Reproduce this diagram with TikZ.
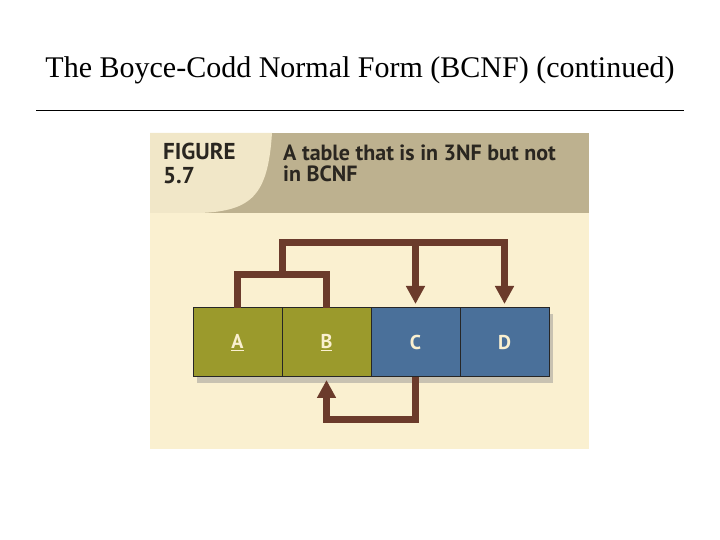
\documentclass[tikz,border=0pt]{standalone}
\usepackage{fontspec}
\setmainfont{Liberation Serif}
\newfontfamily\figfont{PT Sans}
\usetikzlibrary{arrows.meta, positioning, calc}
\definecolor{FigCream}{HTML}{FAF0D0}
\definecolor{FigTan}{HTML}{BDB18F}
\definecolor{FigLight}{HTML}{F1E7C8}
\definecolor{FigOlive}{HTML}{9B9A2C}
\definecolor{FigBlue}{HTML}{4A709A}
\definecolor{FigBrown}{HTML}{6B3B2B}
\definecolor{FigInk}{HTML}{2A2620}
\tikzset{
    % attribute boxes
    attrbox/.style={
        rectangle,
        draw=black!85,
        line width=1pt,
        minimum width=89pt,
        minimum height=69pt,
        inner sep=0pt,
        outer sep=0pt,
        text=FigCream,
        font=\figfont\bfseries\fontsize{20}{20}\selectfont
    },
    keybox/.style={attrbox, fill=FigOlive},
    nonkeybox/.style={attrbox, fill=FigBlue},
    % dependency lines
    depline/.style={
        draw=FigBrown,
        line width=7pt,
        line join=miter
    },
    deparrow/.style={
        depline,
        -{Triangle[width=18pt,length=18pt]},
        shorten >=4pt
    },
    headtext/.style={
        anchor=base west,
        inner sep=0pt,
        text=FigInk,
        font=\figfont\bfseries\fontsize{23}{23}\selectfont
    }
}
\begin{document}
\begin{tikzpicture}[x=1pt,y=1pt]
    \useasboundingbox (0,0) rectangle (720,540);

    % Title
    \node (title) at (360,470) {\fontsize{30}{34}\selectfont The Boyce-Codd Normal Form (BCNF) (continued)};
    \draw[line width=1pt] (36,429) -- (684,429);

    % Figure panel
    \fill[FigCream] (150,91) rectangle (589,407);
    \fill[FigTan] (150,327) rectangle (589,407);
    \fill[FigLight] (150,407) -- (272,407) .. controls (268,345) and (252,329) .. (200,327) -- (150,327) -- cycle;
    \node[headtext] (fig) at (163,380) {FIGURE};
    \node[headtext] (fignum) at (163,356) {5.7};
    \node[headtext, font=\figfont\bfseries\fontsize{22}{22}\selectfont] (cap1) at (283,379) {A table that is in 3NF but not};
    \node[headtext, font=\figfont\bfseries\fontsize{22}{22}\selectfont] (cap2) at (283,358) {in BCNF};

    % Shadow under the table
    \fill[black!45, opacity=0.45] (197,157) rectangle (553,226);

    % Table
    \node[keybox] (a) at (237.5,197.5) {\underline{A}};
    \node[keybox, right=0pt of a] (b) {\underline{B}};
    \node[nonkeybox, right=0pt of b] (c) {C};
    \node[nonkeybox, right=0pt of c] (d) {D};

    % A,B -> C,D
    \coordinate (abtop) at ($(a.north)+(0,33)$);
    \draw[depline] (a.north) -- (abtop) -| (b.north);
    \coordinate (abmid) at ($(abtop)!0.5!(abtop -| b.north)$);
    \coordinate (fdtop) at ($(abmid)+(0,32)$);
    \draw[deparrow] (abmid) -- (fdtop) -| (d.north);
    \draw[deparrow] (fdtop -| c.north) -- (c.north);

    % C -> B
    \draw[deparrow, shorten >=3pt] (c.south) -- ++(0,-43) -| (b.south);
\end{tikzpicture}
\end{document}
